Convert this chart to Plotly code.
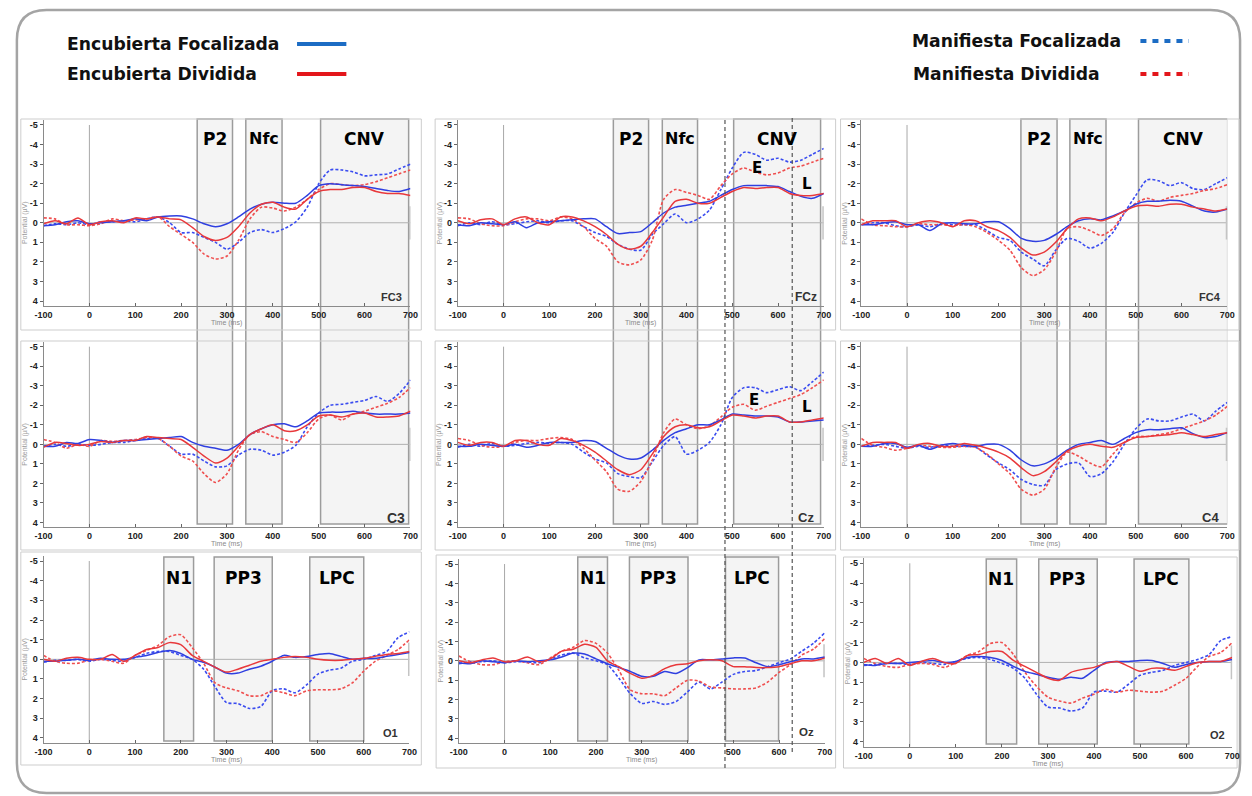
import plotly.graph_objects as go

W, H = 1252, 796

TIME = list(range(-100, 701, 25))
X_TICKS = [-100, 0, 100, 200, 300, 400, 500, 600, 700]
Y_TICKS = [-5, -4, -3, -2, -1, 0, 1, 2, 3, 4]

SERIES_NAMES = ["Encubierta Focalizada", "Encubierta Dividida",
                "Manifiesta Focalizada", "Manifiesta Dividida"]

# ---- FC3 ----
FC3_EF = [0.15, 0.1, -0.05, -0.1, 0.05, 0.0, -0.05, -0.1,
          -0.2, -0.1, -0.3, -0.35, -0.35, -0.2, 0.05, 0.2, 0.05, -0.3, -0.7, -0.95, -1.05, -1.0, -1.0,
          -1.4, -1.9, -2.0, -1.95, -1.9, -1.85, -1.75, -1.65, -1.6, -1.75]
FC3_ED = [0.05, -0.1, 0.05, -0.25, 0.1, -0.05, -0.1, 0.0,
          -0.25, -0.2, -0.3, -0.2, -0.15, 0.25, 0.7, 0.9, 0.75, 0.2, -0.5, -0.95, -1.05, -0.8, -0.7,
          -1.2, -1.6, -1.7, -1.7, -1.8, -1.8, -1.6, -1.5, -1.5, -1.4]
FC3_MF = [0.15, 0.05, 0.1, 0.0, 0.1, -0.05, -0.05, -0.1,
          -0.05, -0.2, -0.3, 0.0, 0.5, 0.5, 0.75, 1.0, 1.35, 1.0, 0.5, 0.35, 0.5, 0.3, -0.05,
          -0.8, -2.0, -2.7, -2.7, -2.6, -2.4, -2.45, -2.5, -2.75, -3.0]
FC3_MD = [-0.25, -0.2, 0.1, 0.1, 0.15, 0.05, -0.2, -0.1,
          -0.15, -0.2, -0.3, 0.2, 0.6, 1.0, 1.6, 1.85, 1.7, 0.9, -0.2, -0.8, -0.75, -0.6, -0.8,
          -1.2, -1.7, -2.0, -1.95, -1.9, -1.95, -2.1, -2.3, -2.5, -2.7]
# ---- FCz ----
FCZ_EF = [0.1, 0.15, 0.0, 0.05, 0.1, -0.05, 0.25, 0.0,
          -0.05, -0.1, -0.15, -0.2, -0.2, 0.2, 0.55, 0.5, 0.45, 0.0, -0.5, -0.8, -0.9, -1.0, -1.1,
          -1.4, -1.7, -1.9, -1.9, -1.9, -1.85, -1.6, -1.35, -1.25, -1.5]
FCZ_ED = [-0.1, 0.05, -0.15, -0.2, 0.1, -0.2, -0.3, 0.0,
          0.1, -0.3, -0.3, -0.1, 0.2, 0.6, 1.1, 1.35, 1.2, 0.5, -0.3, -1.1, -1.2, -1.0, -1.0,
          -1.3, -1.6, -1.8, -1.75, -1.8, -1.8, -1.5, -1.4, -1.4, -1.5]
FCZ_MF = [0.15, 0.0, 0.1, -0.05, 0.1, 0.05, -0.05, -0.1,
          0.0, -0.1, -0.1, 0.2, 0.5, 0.7, 1.1, 1.35, 1.4, 0.6, 0.05, -0.45, 0.0, -0.2, -0.65,
          -1.7, -2.8, -3.6, -3.5, -3.2, -3.3, -3.1, -3.2, -3.5, -3.8]
FCZ_MD = [-0.25, -0.2, 0.05, 0.15, 0.15, -0.05, -0.2, -0.2,
          -0.1, -0.3, -0.2, 0.2, 0.8, 1.2, 2.0, 2.15, 1.9, 0.9, -1.2, -1.7, -1.55, -1.4, -1.2,
          -1.9, -2.5, -2.8, -2.6, -2.45, -2.55, -2.8, -2.9, -3.1, -3.3]
# ---- FC4 ----
FC4_EF = [0.1, 0.1, 0.0, -0.05, 0.1, 0.1, 0.4, 0.05,
          0.0, 0.05, 0.05, -0.05, -0.05, 0.3, 0.8, 0.95, 0.9, 0.6, 0.2, -0.1, -0.2, -0.15, -0.35,
          -0.6, -0.95, -1.1, -1.1, -1.15, -1.1, -0.85, -0.6, -0.55, -0.7]
FC4_ED = [0.1, -0.1, -0.1, -0.1, 0.2, 0.0, -0.1, 0.0,
          0.2, -0.1, -0.1, 0.2, 0.4, 0.75, 1.3, 1.65, 1.5, 1.0, 0.3, -0.2, -0.25, -0.1, -0.3,
          -0.6, -0.85, -0.9, -0.85, -0.95, -0.95, -0.8, -0.7, -0.6, -0.7]
FC4_MF = [0.1, 0.0, 0.0, 0.15, 0.2, 0.1, 0.2, 0.05,
          0.1, 0.1, 0.1, 0.4, 0.75, 0.9, 1.5, 1.85, 2.2, 1.4, 0.8, 0.95, 1.3, 1.05, 0.5,
          -0.5, -1.4, -2.2, -2.15, -1.9, -2.05, -1.75, -1.7, -2.0, -2.3]
FC4_MD = [-0.2, 0.1, 0.15, 0.2, 0.2, 0.05, 0.1, 0.1,
          0.15, 0.1, 0.2, 0.5, 0.9, 1.4, 2.3, 2.7, 2.4, 1.5, 0.3, 0.2, 0.4, 0.65, 0.3,
          -0.5, -1.0, -1.25, -1.1, -1.3, -1.4, -1.5, -1.65, -1.75, -1.95]
# ---- C3 ----
C3_EF = [0.1, 0.1, -0.1, -0.05, -0.25, -0.2, -0.1, -0.2,
         -0.2, -0.25, -0.3, -0.35, -0.4, -0.1, 0.1, 0.2, 0.3, 0.0, -0.5, -0.8, -1.0, -1.05, -0.9,
         -1.2, -1.6, -1.65, -1.65, -1.7, -1.6, -1.55, -1.55, -1.55, -1.6]
C3_ED = [0.15, -0.1, -0.05, 0.05, 0.0, -0.15, -0.1, -0.2,
         -0.2, -0.4, -0.35, -0.3, -0.25, 0.15, 0.6, 0.95, 0.7, 0.1, -0.5, -0.8, -1.0, -0.7, -0.7,
         -1.0, -1.45, -1.5, -1.4, -1.55, -1.6, -1.4, -1.4, -1.45, -1.7]
C3_MF = [0.1, 0.0, 0.1, 0.0, 0.05, 0.0, -0.1, -0.1,
         -0.2, -0.3, -0.3, 0.1, 0.5, 0.5, 0.85, 1.15, 1.1, 0.55, 0.25, 0.3, 0.55, 0.4, 0.05,
         -0.9, -1.6, -2.0, -2.05, -2.15, -2.25, -2.45, -2.2, -2.6, -3.3]
C3_MD = [-0.25, -0.1, 0.2, 0.0, 0.1, -0.2, -0.15, -0.2,
         -0.25, -0.35, -0.3, 0.1, 0.6, 0.85, 1.5, 1.95, 1.5, 0.3, -0.5, -0.65, -0.4, -0.25, -0.1,
         -0.6, -1.3, -1.5, -1.25, -1.55, -1.7, -1.9, -2.1, -2.4, -2.9]
# ---- Cz ----
CZ_EF = [0.1, 0.1, 0.0, 0.05, 0.1, 0.0, 0.15, 0.05,
         -0.1, -0.1, -0.1, -0.2, -0.15, 0.2, 0.55, 0.75, 0.7, 0.3, -0.2, -0.6, -0.8, -1.0, -1.0,
         -1.25, -1.55, -1.5, -1.45, -1.45, -1.4, -1.15, -1.15, -1.2, -1.25]
CZ_ED = [-0.1, 0.05, -0.1, -0.1, 0.1, -0.2, -0.2, 0.0,
         0.05, -0.3, -0.2, 0.05, 0.4, 0.85, 1.3, 1.55, 1.3, 0.5, -0.4, -0.9, -1.0, -0.85, -0.9,
         -1.2, -1.5, -1.45, -1.35, -1.45, -1.45, -1.15, -1.15, -1.25, -1.35]
CZ_MF = [0.15, 0.0, 0.1, -0.05, 0.1, 0.05, -0.05, -0.1,
         -0.05, -0.1, 0.0, 0.4, 0.75, 0.95, 1.5, 1.65, 1.7, 0.9, 0.05, -0.4, 0.5, 0.3, -0.1,
         -1.0, -2.4, -2.9, -2.9, -2.65, -2.8, -2.95, -2.75, -3.2, -3.7]
CZ_MD = [-0.3, -0.2, 0.05, 0.15, 0.1, -0.1, -0.2, -0.2,
         -0.3, -0.35, -0.25, 0.2, 0.8, 1.4, 2.3, 2.4, 1.9, 0.8, -0.6, -1.3, -1.0, -0.8, -0.95,
         -1.4, -1.9, -2.05, -1.75, -1.95, -2.15, -2.35, -2.55, -2.9, -3.3]
# ---- C4 ----
C4_EF = [0.1, 0.1, -0.05, -0.05, 0.15, 0.05, 0.25, 0.05,
         -0.05, 0.05, 0.1, 0.0, 0.0, 0.3, 0.8, 1.1, 1.0, 0.7, 0.3, 0.0, -0.1, -0.2, 0.0,
         -0.3, -0.6, -0.75, -0.75, -0.8, -0.85, -0.55, -0.35, -0.4, -0.6]
C4_ED = [0.1, -0.1, -0.1, -0.1, 0.2, 0.0, -0.05, 0.1,
         0.1, -0.05, 0.05, 0.2, 0.4, 0.7, 1.2, 1.6, 1.4, 0.9, 0.35, 0.1, 0.0, 0.1, 0.15,
         -0.1, -0.35, -0.4, -0.45, -0.5, -0.6, -0.5, -0.4, -0.5, -0.6]
C4_MF = [0.1, 0.05, 0.0, 0.1, 0.2, 0.1, 0.15, 0.05,
         0.1, 0.1, 0.15, 0.55, 0.95, 1.3, 1.8, 2.05, 2.1, 1.3, 1.0, 0.95, 1.65, 1.5, 0.9,
         0.0, -0.8, -1.3, -1.2, -1.2, -1.4, -1.55, -1.2, -1.7, -2.15]
C4_MD = [-0.3, 0.05, 0.15, 0.3, 0.2, 0.05, 0.1, 0.15,
         0.15, 0.1, 0.15, 0.5, 1.0, 1.5, 2.3, 2.6, 2.3, 1.2, 0.4, 0.6, 0.95, 1.15, 0.5,
         -0.1, -0.4, -0.4, -0.5, -0.6, -0.8, -1.0, -1.2, -1.5, -1.95]
# ---- O1 ----
O1_EF = [0.1, 0.1, 0.05, 0.0, 0.05, -0.05, 0.0, 0.0,
         -0.1, -0.2, -0.35, -0.45, -0.3, 0.0, 0.15, 0.4, 0.7, 0.7, 0.5, 0.35, 0.1, -0.2, -0.1,
         -0.15, -0.25, -0.3, -0.15, 0.0, -0.05, -0.05, -0.15, -0.25, -0.35]
O1_ED = [0.0, 0.1, -0.05, -0.1, 0.0, 0.0, -0.25, 0.1,
         -0.2, -0.5, -0.6, -0.85, -0.75, -0.2, 0.1, 0.4, 0.65, 0.5, 0.3, 0.1, 0.0, -0.1, -0.15,
         -0.1, 0.0, 0.05, 0.05, 0.0, -0.05, -0.15, -0.25, -0.3, -0.4]
O1_MF = [0.15, 0.05, 0.05, 0.0, 0.1, 0.0, 0.05, 0.1,
         -0.1, -0.3, -0.4, -0.4, -0.2, 0.0, 0.5, 1.4, 2.2, 2.25, 2.5, 2.4, 1.6, 1.5, 1.7,
         1.3, 0.75, 0.55, 0.45, 0.1, 0.0, -0.2, -0.4, -1.1, -1.4]
O1_MD = [-0.2, 0.1, 0.2, 0.2, 0.05, 0.0, 0.1, 0.2,
         -0.2, -0.45, -0.7, -1.15, -1.25, -0.6, 0.2, 1.2, 1.45, 1.6, 1.85, 1.85, 1.6, 1.7, 1.85,
         1.6, 1.55, 1.55, 1.5, 1.2, 0.6, 0.1, -0.2, -0.5, -1.0]
# ---- Oz ----
OZ_EF = [0.1, 0.15, 0.0, 0.05, 0.1, 0.0, 0.05, 0.0,
         -0.05, -0.2, -0.4, -0.35, -0.1, 0.15, 0.35, 0.55, 0.8, 0.8, 0.55, 0.65, 0.35, -0.05, -0.05,
         -0.1, -0.15, -0.15, 0.1, 0.3, 0.2, 0.05, -0.1, -0.1, -0.2]
OZ_ED = [0.0, 0.1, -0.05, -0.15, 0.05, 0.0, -0.2, 0.05,
         -0.1, -0.5, -0.6, -0.85, -0.7, 0.0, 0.3, 0.65, 0.9, 0.75, 0.4, 0.2, 0.15, 0.0, -0.05,
         0.0, 0.3, 0.3, 0.35, 0.35, 0.3, 0.15, 0.0, 0.0, -0.15]
OZ_MF = [0.15, 0.05, 0.05, 0.0, 0.1, 0.05, 0.05, 0.1,
         -0.1, -0.3, -0.4, -0.15, 0.0, 0.2, 0.9, 1.7, 2.2, 2.1, 2.25, 2.1, 1.6, 1.1, 1.45,
         1.1, 0.7, 0.55, 0.5, 0.3, 0.1, -0.1, -0.5, -0.9, -1.45]
OZ_MD = [-0.25, 0.05, 0.2, 0.2, 0.05, 0.0, 0.1, 0.2,
         -0.15, -0.5, -0.7, -1.05, -0.9, -0.4, 0.5, 1.5, 1.7, 1.7, 1.8, 1.4, 1.0, 1.05, 1.35,
         1.4, 1.45, 1.45, 1.4, 1.1, 0.6, 0.2, -0.3, -0.6, -1.15]
# ---- O2 ----
O2_EF = [0.1, 0.15, 0.05, 0.05, 0.0, -0.05, -0.1, 0.0,
         -0.05, -0.25, -0.3, -0.25, -0.1, 0.2, 0.45, 0.6, 0.75, 0.85, 0.75, 0.8, 0.4, 0.0, -0.05,
         -0.05, -0.1, -0.1, 0.05, 0.25, 0.1, 0.0, -0.05, -0.05, -0.15]
O2_ED = [0.0, -0.2, 0.05, -0.2, 0.15, -0.05, -0.2, 0.0,
         0.05, -0.35, -0.4, -0.55, -0.55, -0.1, 0.2, 0.5, 0.8, 0.9, 0.5, 0.35, 0.25, 0.05, -0.05,
         0.2, 0.45, 0.3, 0.3, 0.4, 0.2, 0.0, -0.05, -0.05, -0.25]
O2_MF = [0.15, 0.1, 0.05, 0.05, 0.1, 0.0, 0.05, 0.1,
         -0.05, -0.2, -0.25, -0.15, 0.05, 0.3, 0.8, 1.6, 2.25, 2.3, 2.45, 2.3, 1.5, 1.45, 1.5,
         1.1, 0.65, 0.5, 0.4, 0.15, 0.0, -0.15, -0.4, -1.1, -1.3]
O2_MD = [-0.2, 0.05, 0.2, 0.25, 0.1, 0.05, 0.1, 0.25,
         0.0, -0.35, -0.55, -0.95, -1.0, -0.4, 0.5, 1.2, 1.75, 1.95, 2.05, 1.8, 1.6, 1.35, 1.5,
         1.4, 1.45, 1.5, 1.45, 1.15, 0.8, 0.2, -0.3, -0.5, -1.0]

CHANNELS = ["FC3", "FCz", "FC4", "C3", "Cz", "C4", "O1", "Oz", "O2"]
DATA = {
    "FC3": (FC3_EF, FC3_ED, FC3_MF, FC3_MD),
    "FCz": (FCZ_EF, FCZ_ED, FCZ_MF, FCZ_MD),
    "FC4": (FC4_EF, FC4_ED, FC4_MF, FC4_MD),
    "C3": (C3_EF, C3_ED, C3_MF, C3_MD),
    "Cz": (CZ_EF, CZ_ED, CZ_MF, CZ_MD),
    "C4": (C4_EF, C4_ED, C4_MF, C4_MD),
    "O1": (O1_EF, O1_ED, O1_MF, O1_MD),
    "Oz": (OZ_EF, OZ_ED, OZ_MF, OZ_MD),
    "O2": (O2_EF, O2_ED, O2_MF, O2_MD),
}

# analysis windows (ms) per column
WIN_FRONT = [
    [("P2", 235, 312), ("Nfc", 341, 420), ("CNV", 504, 696)],
    [("P2", 240, 317), ("Nfc", 347, 424), ("CNV", 503, 693)],
    [("P2", 249, 328), ("Nfc", 356, 435), ("CNV", 506, 701)],
]
WIN_OCC = [
    [("N1", 163, 228), ("PP3", 273, 400), ("LPC", 482, 600)],
    [("N1", 160, 225), ("PP3", 273, 401), ("LPC", 483, 599)],
    [("N1", 166, 232), ("PP3", 280, 407), ("LPC", 487, 606)],
]
CNV_SPLIT = [484, 631]  # E / L dashed limits (ms)

# layout geometry (window pixels): x(-100), x(700), top, bottom of each plotting area
GEOM = [
    (35, 407, 120.1, 305.9), (455, 826, 120.1, 305.9), (864, 1235, 120.1, 305.9),
    (35, 407, 341.8, 527.4), (455, 826, 341.8, 527.4), (864, 1235, 341.8, 527.4),
    (35, 406, 556.1, 742.9), (456, 827, 559.2, 743.1), (866.5, 1240, 558.3, 746.7),
]
FRAMES = [
    (12, 119, 418, 330), (432, 119, 838, 330), (843, 119, 1247, 330),
    (12, 341, 418, 550), (432, 341, 838, 550), (843, 341, 1247, 550),
    (12, 552, 418, 765), (433, 555, 838, 768), (846, 557, 1245, 768),
]
CH_LABEL = {  # x (ms), y (uV), size
    "FC3": (685, 3.78, 11), "FCz": (690, 3.78, 12), "FC4": (690, 3.78, 11),
    "C3": (692, 3.75, 14), "Cz": (683, 3.75, 13), "C4": (686, 3.75, 13),
    "O1": (680, 3.73, 11), "Oz": (681, 3.66, 11.5), "O2": (689, 3.66, 11),
}


def px(x):
    return x / W


def py(y):
    return 1 - y / H


BLUE = "#2f3fe0"
RED = "#e8383b"
BLUE_D = "#3a4cf0"
RED_D = "#ef4f4f"
STYLES = [
    dict(color=BLUE, width=1.5, dash="solid"),
    dict(color=RED, width=1.5, dash="solid"),
    dict(color=BLUE_D, width=1.6, dash="3px,2px"),
    dict(color=RED_D, width=1.6, dash="3px,2px"),
]

fig = go.Figure()
shapes = []
annotations = []

# outer rounded frame
L, T, R, B, r = 8, 10, 1248, 793, 30
path = (f"M {px(L)},{py(T + r)} Q {px(L)},{py(T)} {px(L + r)},{py(T)} "
        f"L {px(R - r)},{py(T)} Q {px(R)},{py(T)} {px(R)},{py(T + r)} "
        f"L {px(R)},{py(B - r)} Q {px(R)},{py(B)} {px(R - r)},{py(B)} "
        f"L {px(L + r)},{py(B)} Q {px(L)},{py(B)} {px(L)},{py(B - r)} Z")
shapes.append(dict(type="path", path=path, xref="paper", yref="paper",
                   line=dict(color="#a4a4a4", width=2.5), layer="below"))

axis_font = dict(family="Liberation Sans, Arial", size=9, color="#222")

for i, ch in enumerate(CHANNELS, start=1):
    sfx = "" if i == 1 else str(i)
    xa, ya = f"x{sfx}", f"y{sfx}"
    x0, x1, yt, yb = GEOM[i - 1]
    fig.update_layout({
        f"xaxis{sfx}": dict(domain=[px(x0), px(x1)], anchor=ya, range=[-100, 700],
                            tickvals=X_TICKS, ticktext=[f"<b>{v}</b>" for v in X_TICKS],
                            tickfont=axis_font, ticks="inside", ticklen=3, tickcolor="#666",
                            showline=True, linecolor="#8a8a8a", linewidth=1,
                            showgrid=False, zeroline=False, fixedrange=True),
        f"yaxis{sfx}": dict(domain=[py(yb), py(yt)], anchor=xa, range=[4.25, -5.25],
                            tickvals=Y_TICKS, ticktext=[f"<b>{v}</b>" for v in Y_TICKS],
                            tickfont=axis_font, ticks="outside", ticklen=3, tickcolor="#666",
                            showline=True, linecolor="#8a8a8a", linewidth=1,
                            showgrid=False, zeroline=False, fixedrange=True),
    })
    series = DATA[ch]
    for k in [2, 3, 0, 1]:
        st = STYLES[k]
        fig.add_trace(go.Scatter(
            x=TIME, y=series[k], mode="lines", name=SERIES_NAMES[k], showlegend=False,
            xaxis=xa, yaxis=ya, hoverinfo="skip",
            line=dict(color=st["color"], width=st["width"], dash=st["dash"],
                      shape="spline", smoothing=0.7)))
    # reference lines
    shapes.append(dict(type="line", xref=xa, yref=ya, x0=-100, x1=700, y0=0, y1=0,
                       line=dict(color="#b0b0b0", width=1), layer="below"))
    shapes.append(dict(type="line", xref=xa, yref=ya, x0=0, x1=0, y0=-5, y1=4.25,
                       line=dict(color="#a8a8a8", width=1), layer="below"))
    shapes.append(dict(type="line", xref=xa, yref=ya, x0=700, x1=700, y0=-0.85, y1=0.85,
                       line=dict(color="#c4c4c4", width=3), layer="below"))
    # channel label
    cx, cy, cs = CH_LABEL[ch]
    annotations.append(dict(text=f"<b>{ch}</b>", xref=xa, yref=ya, x=cx, y=cy,
                            xanchor="right", yanchor="middle", showarrow=False,
                            font=dict(family="Liberation Sans, Arial", size=cs, color="#333")))
    # axis titles
    fr = FRAMES[i - 1]
    annotations.append(dict(text="Time (ms)", xref=xa, yref="paper", x=300,
                            y=py(yb + 17), xanchor="center", yanchor="middle", showarrow=False,
                            font=dict(family="Liberation Sans, Arial", size=7, color="#8a8a8a")))
    annotations.append(dict(text="Potential (\u00b5V)", xref="paper", yref=ya,
                            x=px(fr[0] + 4.5), y=0, xanchor="center", yanchor="middle",
                            textangle=-90, showarrow=False,
                            font=dict(family="Liberation Sans, Arial", size=7, color="#9a9a9a")))

# analysis windows (drawn in the lower layer, under the data)
lab_font = dict(family="DejaVu Sans", size=17, color="#000", weight="bold")
for c in range(3):
    xa = "x" if c == 0 else f"x{c + 1}"
    for name, a, b in WIN_FRONT[c]:
        shapes.append(dict(type="rect", xref=xa, yref="paper", x0=a, x1=b,
                           y0=py(524), y1=py(119), fillcolor="#f4f4f4",
                           line=dict(color="#9c9c9c", width=1.5), layer="below"))
        f = dict(lab_font)
        if name == "Nfc":
            f["size"] = 16
        annotations.append(dict(text=name, xref=xa, yref="paper", x=(a + b) / 2,
                                y=py(138.5), xanchor="center", yanchor="middle",
                                showarrow=False, font=f))
    xo = f"x{c + 7}"
    top = 557 if c < 2 else 559
    bot = 741 if c < 2 else 744
    for name, a, b in WIN_OCC[c]:
        shapes.append(dict(type="rect", xref=xo, yref="paper", x0=a, x1=b,
                           y0=py(bot), y1=py(top), fillcolor="#f4f4f4",
                           line=dict(color="#9c9c9c", width=1.5), layer="below"))
        annotations.append(dict(text=name, xref=xo, yref="paper", x=(a + b) / 2,
                                y=py(577.5 if c < 2 else 579), xanchor="center",
                                yanchor="middle", showarrow=False, font=lab_font))

# panel frames
for (a, t, b, btm) in FRAMES:
    shapes.append(dict(type="rect", xref="paper", yref="paper", x0=px(a), x1=px(b),
                       y0=py(btm), y1=py(t), line=dict(color="#cdcdcd", width=1),
                       fillcolor="rgba(0,0,0,0)", layer="below"))

# E / L split lines on the midline column
shapes.append(dict(type="line", xref="x2", yref="paper", x0=CNV_SPLIT[0], x1=CNV_SPLIT[0],
                   y0=py(768), y1=py(118), line=dict(color="#555", width=1.2, dash="4px,3px")))
shapes.append(dict(type="line", xref="x2", yref="paper", x0=CNV_SPLIT[1], x1=CNV_SPLIT[1],
                   y0=py(752), y1=py(118), line=dict(color="#555", width=1.2, dash="4px,3px")))
el_font = dict(family="DejaVu Sans", size=15, color="#000", weight="bold")
for xa, ya, ex, ey, lx, ly in [("x2", "y2", 555, -2.8, 663, -1.98),
                               ("x5", "y5", 547, -2.27, 663, -1.93)]:
    annotations.append(dict(text="E", xref=xa, yref=ya, x=ex, y=ey, showarrow=False, font=el_font))
    annotations.append(dict(text="L", xref=xa, yref=ya, x=lx, y=ly, showarrow=False, font=el_font))

# legend (text + line sample on the right)
leg_font = dict(family="DejaVu Sans", size=17.2, color="#111", weight="bold")
LEG = [
    (SERIES_NAMES[0], 57, 44, 292, 342, "#1c6cc4", "solid"),
    (SERIES_NAMES[1], 57, 74, 292, 342, "#e3161b", "solid"),
    (SERIES_NAMES[2], 913, 41, 1147, 1196, "#1c6cc4", "6px,6px"),
    (SERIES_NAMES[3], 914, 74, 1147, 1196, "#e3161b", "6px,6px"),
]
for name, tx, ty, l0, l1, col, dash in LEG:
    annotations.append(dict(text=name, xref="paper", yref="paper", x=px(tx), y=py(ty),
                            xanchor="left", yanchor="middle", showarrow=False, font=leg_font))
    shapes.append(dict(type="line", xref="paper", yref="paper", x0=px(l0), x1=px(l1),
                       y0=py(ty), y1=py(ty), line=dict(color=col, width=4, dash=dash)))

fig.update_layout(
    width=W, height=H, margin=dict(l=0, r=0, t=0, b=0),
    paper_bgcolor="white", plot_bgcolor="rgba(0,0,0,0)",
    shapes=shapes, annotations=annotations, showlegend=False,
)

# remove the default page margin so the figure sits exactly in the 1252x796 window
fig.write_html("out.html",
               config={"displayModeBar": False},
               post_script="document.body.style.margin='0px';"
                           "document.body.style.overflow='hidden';")
